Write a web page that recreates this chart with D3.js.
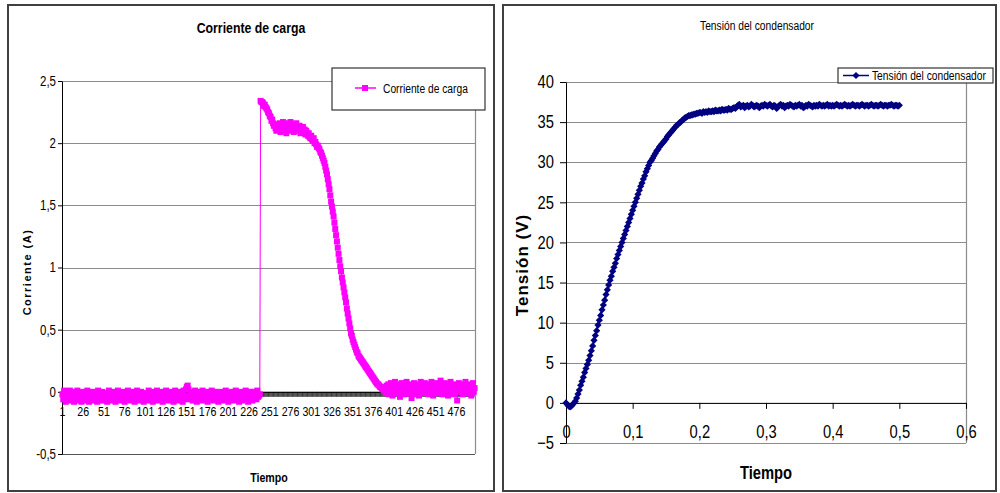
<!DOCTYPE html>
<html>
<head>
<meta charset="utf-8">
<script src="https://cdn.jsdelivr.net/npm/d3@7"></script>
<style>
body { margin: 0; background: #fff; }
svg text { font-family: "Liberation Sans", Arial, sans-serif; fill: #000; }
</style>
</head>
<body>
<svg id="chart" width="1000" height="493"></svg>
<script>
// ---- data: Corriente de carga (one value per sample, categories 1..498)
var corriente = [
 -0.02,-0.06,0.01,-0.05,-0.08,-0.03,0.00,-0.06,-0.04,0.01,
 -0.07,-0.03,-0.05,0.00,-0.08,-0.02,-0.06,-0.04,0.01,-0.07,
 -0.03,-0.05,-0.01,-0.08,-0.04,0.00,-0.06,-0.02,-0.07,-0.03,
 0.01,-0.05,-0.08,-0.02,-0.04,-0.06,0.00,-0.03,-0.07,-0.01,
 -0.05,-0.03,-0.08,0.01,-0.04,-0.06,-0.02,-0.05,0.00,-0.07,
 -0.03,-0.06,-0.01,-0.04,-0.08,-0.02,0.01,-0.05,-0.03,-0.07,
 -0.02,-0.06,0.00,-0.04,-0.08,-0.03,-0.05,0.01,-0.06,-0.02,
 -0.07,-0.04,0.00,-0.05,-0.03,-0.08,-0.01,-0.05,-0.04,0.01,
 -0.06,-0.02,-0.07,-0.04,0.00,-0.05,-0.03,-0.08,-0.02,-0.06,
 0.01,-0.04,-0.07,-0.03,-0.05,0.00,-0.06,-0.02,-0.08,-0.04,
 -0.01,-0.05,-0.03,-0.07,0.01,-0.04,-0.06,-0.02,-0.05,-0.08,
 0.00,-0.03,-0.06,-0.04,0.01,-0.07,-0.02,-0.05,-0.03,-0.06,
 0.00,-0.08,-0.04,-0.02,-0.06,0.01,-0.05,-0.03,-0.07,-0.01,
 -0.04,-0.06,0.00,-0.03,-0.08,-0.05,0.01,-0.02,-0.06,-0.04,
 -0.07,0.00,-0.03,-0.05,-0.02,-0.08,0.01,-0.04,-0.06,0.02,
 0.04,0.05,0.02,-0.03,-0.06,0.00,-0.04,-0.07,-0.02,-0.05,
 0.01,-0.03,-0.08,-0.04,0.00,-0.06,-0.02,-0.05,-0.07,0.01,
 -0.04,-0.02,-0.06,-0.03,0.00,-0.08,-0.05,-0.01,-0.04,-0.06,
 0.01,-0.03,-0.07,-0.02,-0.05,0.00,-0.06,-0.04,-0.08,-0.01,
 -0.05,-0.03,0.00,-0.07,-0.04,-0.02,-0.06,0.01,-0.05,-0.03,
 -0.08,-0.01,-0.04,-0.06,0.00,-0.03,-0.07,-0.02,-0.05,0.01,
 -0.04,-0.06,-0.02,-0.08,-0.03,0.00,-0.05,-0.07,-0.01,-0.04,
 -0.06,0.01,-0.03,-0.05,-0.08,-0.02,0.00,-0.06,-0.04,-0.07,
 0.00,-0.03,-0.05,-0.02,-0.06,0.01,-0.04,-0.03,-0.02,
 2.34,2.33,2.33,2.32,2.30,2.31,2.29,2.28,2.27,2.25,
 2.24,2.22,2.21,2.18,2.19,2.16,2.14,2.15,2.12,2.10,
 2.13,2.15,2.11,2.16,2.09,2.14,2.12,2.17,2.10,2.15,
 2.13,2.08,2.16,2.12,2.14,2.10,2.17,2.11,2.15,2.13,
 2.09,2.14,2.12,2.16,2.10,2.13,2.11,2.14,2.08,2.12,
 2.10,2.13,2.09,2.11,2.07,2.10,2.08,2.06,2.08,2.05,
 2.04,2.06,2.03,2.02,2.04,2.00,2.01,1.99,1.97,1.98,
 1.96,1.95,1.93,1.92,1.90,1.88,1.86,1.84,1.81,1.78,
 1.75,1.71,1.67,1.63,1.58,1.53,1.49,1.45,1.41,1.36,
 1.31,1.26,1.21,1.16,1.11,1.06,1.01,0.97,0.92,0.88,
 0.84,0.80,0.76,0.72,0.67,0.63,0.59,0.55,0.51,0.47,
 0.45,0.42,0.40,0.38,0.36,0.34,0.32,0.31,0.29,0.28,
 0.27,0.26,0.25,0.24,0.23,0.22,0.21,0.20,0.19,0.18,
 0.17,0.16,0.15,0.14,0.13,0.12,0.11,0.10,0.09,0.08,
 0.07,0.06,0.06,0.05,0.04,0.04,0.03,0.02,0.02,0.01,
 0.03,-0.01,0.05,0.00,0.06,-0.02,0.04,0.07,0.01,-0.03,
 0.05,0.02,0.08,-0.01,0.04,0.06,0.00,0.03,-0.04,0.05,
 0.07,0.01,0.04,-0.02,0.06,0.02,0.08,-0.01,0.03,0.05,
 0.00,0.06,-0.05,0.04,0.02,0.07,-0.02,0.03,0.05,0.01,
 0.06,-0.03,0.04,0.08,0.00,0.02,0.05,-0.01,0.07,0.03,
 0.01,0.05,-0.02,0.06,0.04,0.00,0.08,0.02,-0.03,0.05,
 0.03,0.07,0.00,0.04,-0.01,0.06,0.02,0.09,0.01,-0.02,
 0.05,0.03,0.07,0.00,0.04,0.06,-0.03,0.02,0.05,0.08,
 0.01,0.04,-0.02,0.06,0.03,0.00,0.05,-0.07,0.02,0.07,
 0.04,0.00,0.06,0.02,-0.02,0.05,0.03,0.08,0.01,0.04,
 -0.01,0.06,0.02,0.05,-0.03,0.04,0.07,0.00,0.03
];
var corrienteTicks = [-0.5, 0, 0.5, 1, 1.5, 2, 2.5];
var categoryLabels = [1, 26, 51, 76, 101, 126, 151, 176, 201, 226, 251, 276, 301, 326, 351, 376, 401, 426, 451, 476];

// ---- data: Tensión del condensador, sampled every 0.002 s from t = 0
var tStart = 0, tStep = 0.002;
var tension = [
 0.0,-0.2,-0.4,-0.5,-0.4,-0.2,0.0,0.2,0.6,1.1,
 1.6,2.2,2.7,3.2,3.8,4.3,4.8,5.3,5.9,6.5,
 7.1,7.8,8.4,9.0,9.7,10.3,10.9,11.6,12.2,12.8,
 13.5,14.1,14.7,15.3,15.8,16.4,16.9,17.4,18.0,18.5,
 19.0,19.5,20.0,20.5,21.0,21.5,22.0,22.5,23.0,23.5,
 24.0,24.5,25.0,25.5,26.0,26.5,27.0,27.4,27.9,28.3,
 28.8,29.2,29.6,30.0,30.2,30.5,30.8,31.1,31.4,31.6,
 31.9,32.1,32.3,32.5,32.7,32.9,33.2,33.4,33.6,33.8,
 34.0,34.2,34.4,34.6,34.7,34.9,35.0,35.2,35.3,35.5,
 35.6,35.7,35.8,35.8,35.9,35.9,36.0,36.0,36.1,36.1,
 36.2,
 36.2,36.1,36.3,36.2,36.3,36.2,36.4,36.3,36.3,36.4,36.3,36.5,36.4,36.4,36.5,36.4,36.6,36.5,36.5,36.6,36.5,36.7,36.6,36.6,36.7,
 36.8,36.7,36.9,37.1,37.2,36.9,37.0,37.1,36.8,37.0,37.1,36.9,37.0,37.2,37.1,36.9,37.0,37.1,37.0,36.8,37.0,37.1,37.0,37.2,37.1,
 37.0,37.1,37.2,37.0,36.9,37.1,37.0,36.7,36.9,37.1,37.2,37.0,37.1,36.8,37.0,37.1,37.0,37.2,37.1,37.0,36.9,37.1,37.0,37.1,37.2,
 37.0,37.1,36.8,36.9,37.1,37.0,37.2,37.1,37.0,36.9,37.1,37.0,37.1,37.0,37.2,37.1,37.0,37.1,37.0,37.1,37.2,37.0,37.1,37.0,37.1,
 37.0,37.1,37.2,37.1,37.0,37.1,37.0,37.1,37.2,37.1,37.0,37.1,37.0,37.1,37.2,37.1,37.0,37.1,37.1,37.0,37.1,37.2,37.1,37.0,37.1,
 37.1,37.0,37.1,37.2,37.1,37.0,37.1,37.1,37.0,37.1,37.2,37.1,37.0,37.1,37.1,37.0,37.1,37.1,37.2,37.1,37.0,37.1,37.1,37.0,37.1
];
var tensionTicks = [-5, 0, 5, 10, 15, 20, 25, 30, 35, 40];
var tiempoTicks = [0, 0.1, 0.2, 0.3, 0.4, 0.5, 0.6];

var comma = function(d) { return String(d).replace(".", ","); };
var grid = "#8c8c8c";
var NARROW = 0.82;   // stand-in for Arial Narrow

// squeeze axis labels horizontally around their anchor
function squeeze(sel) {
  sel.each(function() {
    var t = d3.select(this), x = +t.attr("x") || 0;
    t.attr("x", x / NARROW).attr("transform", "scale(" + NARROW + ",1)");
  });
}
// free text label, optionally narrow
function label(g, x, y, size, txt, opts) {
  opts = opts || {};
  var k = opts.wide ? 1 : NARROW;
  var t = g.append("text")
    .attr("transform", "translate(" + x + "," + y + ")" + (opts.rotate ? " rotate(-90)" : "") + " scale(" + k + ",1)")
    .attr("text-anchor", opts.anchor || "middle")
    .style("font-size", size + "px")
    .text(txt);
  if (opts.bold) t.style("font-weight", "bold");
  if (opts.spacing) t.style("letter-spacing", opts.spacing + "px");
  return t;
}

var svg = d3.select("#chart");

// panel frames
svg.append("rect").attr("x", 8).attr("y", 5).attr("width", 486).attr("height", 486)
  .attr("fill", "#fff").attr("stroke", "#404040").attr("stroke-width", 2);
svg.append("rect").attr("x", 503).attr("y", 5).attr("width", 493).attr("height", 486)
  .attr("fill", "#fff").attr("stroke", "#404040").attr("stroke-width", 2);

// ================= left chart: Corriente de carga =================
var L = {left: 62, right: 475, top: 81, bottom: 454};
var xL = d3.scaleBand().domain(d3.range(1, corriente.length + 1)).range([L.left, L.right]);
var yL = d3.scaleLinear().domain([-0.5, 2.5]).range([L.bottom, L.top]);
var cx = function(i) { return xL(i + 1) + xL.bandwidth() / 2; };

var gl = svg.append("g");

gl.selectAll(".gridL").data(corrienteTicks).enter().append("line")
  .attr("x1", L.left).attr("x2", L.right)
  .attr("y1", function(d) { return Math.round(yL(d)) + 0.5; })
  .attr("y2", function(d) { return Math.round(yL(d)) + 0.5; })
  .attr("stroke", grid).attr("stroke-width", 1.2);
gl.append("line").attr("x1", L.right + 0.5).attr("x2", L.right + 0.5)
  .attr("y1", L.top).attr("y2", L.bottom).attr("stroke", grid).attr("stroke-width", 1.2);
gl.append("line").attr("x1", L.left).attr("x2", L.right)
  .attr("y1", L.bottom + 0.5).attr("y2", L.bottom + 0.5).attr("stroke", "#555");

// category tick marks along y = 0
gl.append("g").selectAll("line").data(corriente).enter().append("line")
  .attr("x1", function(d, i) { return xL(i + 1); })
  .attr("x2", function(d, i) { return xL(i + 1); })
  .attr("y1", yL(0)).attr("y2", yL(0) + 5)
  .attr("stroke", "#000").attr("stroke-width", 0.7);

// category axis (labels only)
var xAxisL = gl.append("g")
  .attr("transform", "translate(0," + yL(0) + ")")
  .call(d3.axisBottom(xL).tickValues(categoryLabels).tickSize(0).tickPadding(15));
xAxisL.select(".domain").attr("stroke", "#000");
xAxisL.selectAll("text").style("font-size", "13px").call(squeeze);

var yAxisL = gl.append("g")
  .attr("transform", "translate(" + L.left + ",0)")
  .call(d3.axisLeft(yL).tickValues(corrienteTicks).tickSize(4).tickSizeOuter(0).tickPadding(2).tickFormat(comma));
yAxisL.selectAll("text").style("font-size", "14px").call(squeeze);

gl.append("path").datum(corriente)
  .attr("fill", "none").attr("stroke", "#ff00ff").attr("stroke-width", 1)
  .attr("d", d3.line().x(function(d, i) { return cx(i); }).y(function(d) { return yL(d); }));
gl.append("g").selectAll("rect").data(corriente).enter().append("rect")
  .attr("x", function(d, i) { return cx(i) - 3; })
  .attr("y", function(d) { return yL(d) - 3; })
  .attr("width", 6).attr("height", 6).attr("fill", "#ff00ff");

label(gl, 251, 33, 15, "Corriente de carga", {bold: true});
label(gl, 269, 482, 13, "Tiempo", {bold: true});
label(gl, 31, 272, 11, "Corriente (A)", {bold: true, rotate: true, wide: true, spacing: 1.5});

// legend
gl.append("rect").attr("x", 332).attr("y", 68).attr("width", 153).attr("height", 42)
  .attr("fill", "#fff").attr("stroke", "#333").attr("stroke-width", 1.2);
gl.append("line").attr("x1", 355).attr("x2", 376).attr("y1", 88).attr("y2", 88)
  .attr("stroke", "#ff00ff").attr("stroke-width", 1.5);
gl.append("rect").attr("x", 362).attr("y", 85).attr("width", 6).attr("height", 6).attr("fill", "#ff00ff");
label(gl, 383, 93, 12.5, "Corriente de carga", {anchor: "start"});

// ================= right chart: Tensión del condensador =================
var R = {left: 566, right: 966, top: 82, bottom: 443};
var xR = d3.scaleLinear().domain([0, 0.6]).range([R.left, R.right]);
var yR = d3.scaleLinear().domain([-5, 40]).range([R.bottom, R.top]);

var gr = svg.append("g");

gr.selectAll(".gridR").data(tensionTicks).enter().append("line")
  .attr("x1", R.left).attr("x2", R.right)
  .attr("y1", function(d) { return Math.round(yR(d)) + 0.5; })
  .attr("y2", function(d) { return Math.round(yR(d)) + 0.5; })
  .attr("stroke", grid).attr("stroke-width", 1.2);
gr.append("line").attr("x1", R.right + 0.5).attr("x2", R.right + 0.5)
  .attr("y1", R.top).attr("y2", R.bottom).attr("stroke", grid).attr("stroke-width", 1.2);

var xAxisR = gr.append("g")
  .attr("transform", "translate(0," + yR(0) + ")")
  .call(d3.axisBottom(xR).tickValues(tiempoTicks).tickSize(6).tickSizeOuter(0).tickPadding(16).tickFormat(comma));
xAxisR.selectAll("text").style("font-size", "18px").call(squeeze);

var yAxisR = gr.append("g")
  .attr("transform", "translate(" + R.left + ",0)")
  .call(d3.axisLeft(yR).tickValues(tensionTicks).tickSize(6).tickSizeOuter(0).tickPadding(6));
yAxisR.selectAll("text").style("font-size", "18px").call(squeeze);

var diamond = "M0,-3.6L3.6,0L0,3.6L-3.6,0Z";
gr.append("path").datum(tension)
  .attr("fill", "none").attr("stroke", "#000080").attr("stroke-width", 1.5)
  .attr("d", d3.line().x(function(d, i) { return xR(tStart + i * tStep); }).y(function(d) { return yR(d); }));
gr.append("g").selectAll("path").data(tension).enter().append("path")
  .attr("d", diamond)
  .attr("transform", function(d, i) { return "translate(" + xR(tStart + i * tStep) + "," + yR(d) + ")"; })
  .attr("fill", "#000080");

label(gr, 757, 30, 12.5, "Tensión del condensador");
label(gr, 766, 479, 18, "Tiempo", {bold: true});
label(gr, 528, 265, 17, "Tensión (V)", {bold: true, rotate: true, wide: true, spacing: 1});

// legend
gr.append("rect").attr("x", 838).attr("y", 68).attr("width", 155).attr("height", 15)
  .attr("fill", "#fff").attr("stroke", "#333").attr("stroke-width", 1.2);
gr.append("line").attr("x1", 843).attr("x2", 869).attr("y1", 75.5).attr("y2", 75.5)
  .attr("stroke", "#000080").attr("stroke-width", 1.5);
gr.append("path").attr("d", diamond).attr("transform", "translate(856,75.5)").attr("fill", "#000080");
label(gr, 872, 79.5, 12.5, "Tensión del condensador", {anchor: "start"});
</script>
</body>
</html>
